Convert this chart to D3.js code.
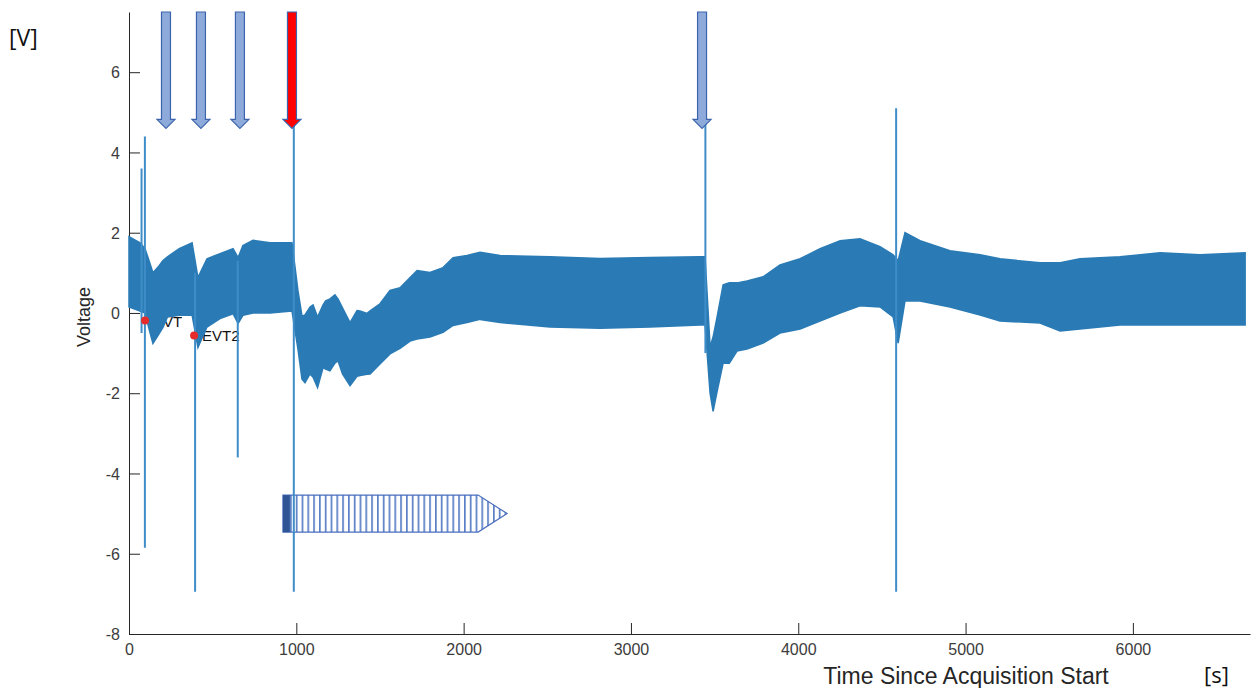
<!DOCTYPE html>
<html>
<head>
<meta charset="utf-8">
<script src="https://cdn.jsdelivr.net/npm/d3@7"></script>
<style>
  body { margin: 0; background: #fff; }
  svg { display: block; font-family: "Liberation Sans", Arial, sans-serif; }
</style>
</head>
<body>
<div id="chart"></div>
<script>
// signal envelope (max / min of the trace per time slice)
const times = [0, 66, 96, 120, 143, 175, 203, 230, 300, 377, 412, 466, 544, 622, 652, 681, 741, 843, 974,
    1010, 1034, 1052, 1082, 1100, 1127, 1160, 1175, 1201, 1231, 1249, 1276, 1321, 1363, 1381,
    1423, 1441, 1500, 1560, 1620, 1680, 1722, 1799, 1877, 1937, 2020, 2098, 2218,
    2516, 2815, 3114, 3413, 3443, 3473, 3491, 3515, 3551, 3588, 3634, 3694, 3790, 3891,
    4011, 4130, 4250, 4369, 4489, 4567, 4597, 4638, 4728, 4907, 5087, 5206, 5445, 5565,
    5684, 5923, 6163, 6402, 6671]
const upper = [1.9, 1.75, 1.6, 1.3, 1.0, 1.15, 1.31, 1.4, 1.6, 1.75, 0.88, 1.35, 1.48, 1.6, 1.38, 1.68, 1.81, 1.75, 1.75,
    0.55, -0.08, -0.05, 0.15, 0.2, -0.1, 0.2, 0.3, 0.35, 0.45, 0.35, 0.13, -0.24, 0.06, 0.05,
    -0.01, 0.05, 0.23, 0.56, 0.63, 0.88, 1.06, 1.01, 1.13, 1.38, 1.43, 1.51, 1.43,
    1.4, 1.36, 1.38, 1.4, 1.4, -0.85, -0.6, -0.1, 0.7, 0.75, 0.75, 0.8, 0.9, 1.2,
    1.35, 1.6, 1.8, 1.85, 1.65, 1.45, 1.3, 2.0, 1.8, 1.55, 1.45, 1.35, 1.25, 1.25,
    1.35, 1.4, 1.5, 1.45, 1.5]
const lower = [0.15, 0.05, 0.0, -0.4, -0.76, -0.55, -0.36, -0.1, -0.06, -0.05, -0.86, -0.35, -0.14, -0.02, -0.26, -0.06, 0.0, 0.0, 0.05,
    -0.9, -1.65, -1.74, -1.52, -1.6, -1.86, -1.36, -1.4, -1.44, -1.25, -1.19, -1.52, -1.81, -1.58, -1.56,
    -1.53, -1.52, -1.27, -1.02, -0.88, -0.7, -0.65, -0.6, -0.48, -0.31, -0.24, -0.16, -0.24,
    -0.35, -0.38, -0.35, -0.3, -0.3, -2.0, -2.45, -1.95, -1.25, -1.25, -0.95, -0.9, -0.75, -0.5,
    -0.4, -0.2, 0.0, 0.18, 0.15, -0.1, -0.75, 0.3, 0.3, 0.15, -0.05, -0.2, -0.25, -0.45,
    -0.4, -0.3, -0.3, -0.3, -0.3]

// short transients
const spikeTimes = [75, 95, 395, 650, 985, 3445, 4585]
const spikeMax = [3.6, 4.4, 1.0, 1.3, 4.8, 7.3, 5.1]
const spikeMin = [-0.5, -5.85, -6.95, -3.6, -6.95, -1.0, -6.95]

// marked events
const eventTimes = [96, 389]
const eventValues = [-0.19, -0.56]
const eventLabels = ["EVT", "EVT2"]

// annotation arrows
const arrowTimes = [221, 430, 663, 974, 3425]
const highlightTime = 974
const treatmentSpan = [920, 2260]
const treatmentLevel = -5.0

const xTicks = [0, 1000, 2000, 3000, 4000, 5000, 6000]
const yTicks = [-8, -6, -4, -2, 0, 2, 4, 6]

function drawChart() {
  // Dimensions
    const width = 1252
    const height = 688
    const plot = { left: 129, right: 1250, top: 12, bottom: 634 }

  // Canvas
    const svg = d3.select("#chart")
        .append("svg")
            .attr("width", width)
            .attr("height", height)

  // Scales
    const xScale = d3.scaleLinear()
        .domain([0, 6700])
        .range([plot.left, plot.right])
    const yScale = d3.scaleLinear()
        .domain([-8, 7.5])
        .range([plot.bottom, plot.top])

  // Axes (MATLAB style, ticks inside)
    const xAxis = svg.append("g")
        .attr("transform", `translate(0, ${plot.bottom})`)
        .call(d3.axisBottom(xScale)
            .tickValues(xTicks)
            .tickFormat(d => String(d))
            .tickSizeInner(-11)
            .tickSizeOuter(0)
            .tickPadding(10))
    const yAxis = svg.append("g")
        .attr("transform", `translate(${plot.left}, 0)`)
        .call(d3.axisLeft(yScale)
            .tickValues(yTicks)
            .tickFormat(d => String(d))
            .tickSizeInner(-11)
            .tickSizeOuter(0)
            .tickPadding(9))
    svg.selectAll(".domain, .tick line")
        .attr("stroke", "#262626")
    svg.selectAll(".tick text")
        .attr("fill", "#3c3c3c")
        .style("font-size", "16px")
        .style("font-family", "Liberation Sans, Arial, sans-serif")
    yAxis.selectAll(".tick text").attr("dy", "0.35em")

  // Event labels (sit under the trace)
    eventLabels.forEach((label, i) => {
        svg.append("text")
            .attr("x", xScale(eventTimes[i]) + 8)
            .attr("y", yScale(eventValues[i]) + 6)
            .attr("fill", "#111")
            .style("font-size", "15px")
            .text(label)
    })

  // Signal envelope
    const envelope = times.map((t, i) => ({ t, hi: upper[i], lo: lower[i] }))
    const areaGenerator = d3.area()
        .x(d => xScale(d.t))
        .y0(d => yScale(d.lo))
        .y1(d => yScale(d.hi))
    svg.append("path")
        .attr("d", areaGenerator(envelope))
        .attr("fill", "#2a7bb5")
        .attr("stroke", "#2a7bb5")
        .attr("stroke-width", 1.5)

  // Treatment arrow (striped)
    const defs = svg.append("defs")
    const pattern = defs.append("pattern")
        .attr("id", "stripes")
        .attr("patternUnits", "userSpaceOnUse")
        .attr("width", 5.8)
        .attr("height", 10)
    pattern.append("rect")
        .attr("width", 5.8).attr("height", 10).attr("fill", "#fff")
    pattern.append("rect")
        .attr("x", 0).attr("width", 1.7).attr("height", 10).attr("fill", "#5a7fc6")

    const tx0 = xScale(treatmentSpan[0])
    const tx1 = xScale(treatmentSpan[1])
    const ty = yScale(treatmentLevel)
    const half = 18.5
    const headLen = 29
    const treatmentPath = d3.path()
    treatmentPath.moveTo(tx0, ty - half)
    treatmentPath.lineTo(tx1 - headLen, ty - half)
    treatmentPath.lineTo(tx1, ty)
    treatmentPath.lineTo(tx1 - headLen, ty + half)
    treatmentPath.lineTo(tx0, ty + half)
    treatmentPath.closePath()
    svg.append("path")
        .attr("d", treatmentPath.toString())
        .attr("fill", "url(#stripes)")
        .attr("stroke", "#4a6fbf")
        .attr("stroke-width", 1.2)
    svg.append("rect")
        .attr("x", tx0)
        .attr("y", ty - half)
        .attr("width", 7)
        .attr("height", half * 2)
        .attr("fill", "#2f5597")

  // Spikes
    svg.append("g")
        .selectAll("line")
        .data(spikeTimes)
        .join("line")
            .attr("x1", d => xScale(d))
            .attr("x2", d => xScale(d))
            .attr("y1", (d, i) => yScale(spikeMax[i]))
            .attr("y2", (d, i) => yScale(spikeMin[i]))
            .attr("stroke", "#3f8dc8")
            .attr("stroke-width", 2)

  // Event markers
    svg.append("g")
        .selectAll("circle")
        .data(eventTimes)
        .join("circle")
            .attr("cx", d => xScale(d))
            .attr("cy", (d, i) => yScale(eventValues[i]))
            .attr("r", 4)
            .attr("fill", "#e52b2b")

  // Injection arrows
    const arrowTop = yScale(7.5)
    const arrowTip = yScale(4.6)
    const shaft = 4.5
    const head = 9
    const headH = 9
    const arrowPath = cx => {
        const p = d3.path()
        p.moveTo(cx - shaft, arrowTop)
        p.lineTo(cx + shaft, arrowTop)
        p.lineTo(cx + shaft, arrowTip - headH)
        p.lineTo(cx + head, arrowTip - headH)
        p.lineTo(cx, arrowTip)
        p.lineTo(cx - head, arrowTip - headH)
        p.lineTo(cx - shaft, arrowTip - headH)
        p.closePath()
        return p.toString()
    }
    svg.append("g")
        .selectAll("path")
        .data(arrowTimes)
        .join("path")
            .attr("d", d => arrowPath(xScale(d)))
            .attr("fill", d => d === highlightTime ? "#ff0000" : "#8eaadb")
            .attr("stroke", "#3c64ad")
            .attr("stroke-width", 1.2)

  // Axis titles
    svg.append("text")
        .attr("transform", `translate(90, 317) rotate(-90)`)
        .attr("text-anchor", "middle")
        .attr("fill", "#262626")
        .style("font-size", "18px")
        .text("Voltage")
    svg.append("text")
        .attr("x", 966)
        .attr("y", 684)
        .attr("text-anchor", "middle")
        .attr("fill", "#262626")
        .style("font-size", "23px")
        .text("Time Since Acquisition Start")
    svg.append("text")
        .attr("x", 9)
        .attr("y", 46)
        .attr("fill", "#111")
        .style("font-family", "Open Sans, sans-serif")
        .style("font-size", "23px")
        .text("[V]")
    svg.append("text")
        .attr("x", 1204)
        .attr("y", 683)
        .attr("fill", "#111")
        .style("font-family", "Open Sans, sans-serif")
        .style("font-size", "22px")
        .text("[s]")
}

drawChart()
</script>
</body>
</html>
